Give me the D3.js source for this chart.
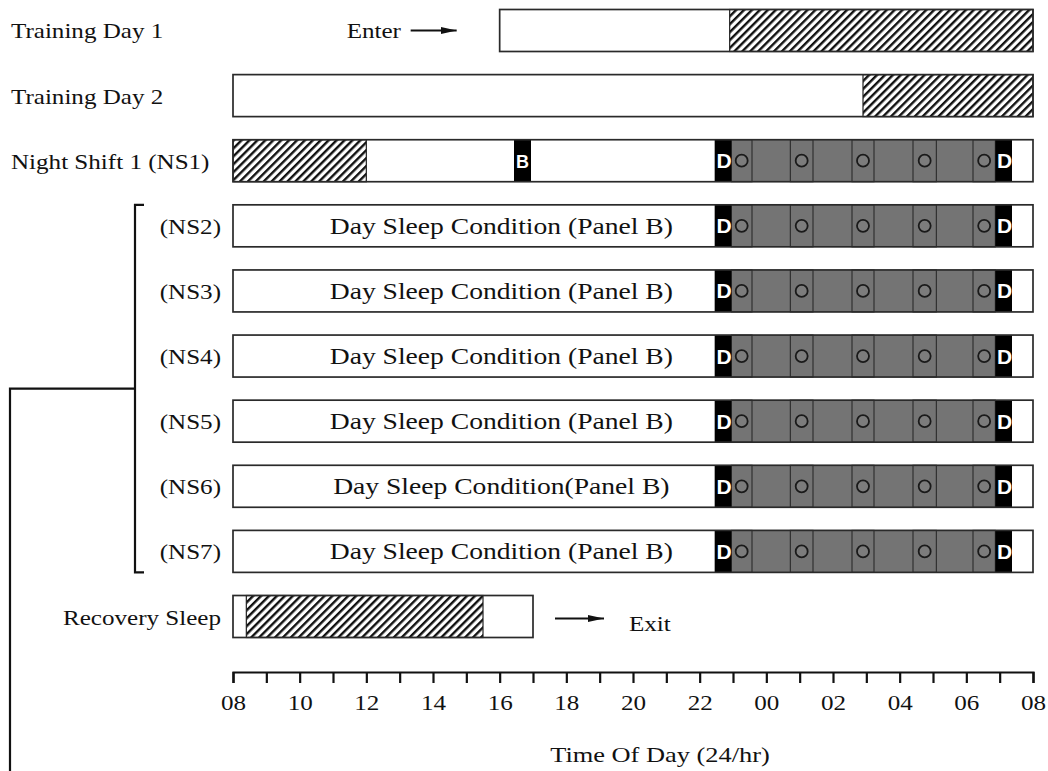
<!DOCTYPE html>
<html>
<head>
<meta charset="utf-8">
<script src="https://cdn.jsdelivr.net/npm/d3@7"></script>
<style>
  body { margin: 0; background: #fff; }
  svg { display: block; }
</style>
</head>
<body>
<svg id="chart"></svg>
<script>
// rows, top to bottom
const rowLabels = ["Training Day 1", "Training Day 2", "Night Shift 1 (NS1)", "(NS2)", "(NS3)", "(NS4)", "(NS5)", "(NS6)", "(NS7)", "Recovery Sleep"];
// hours on a 08 -> 08 (next day) clock, values past 24 run into next morning
const barStart = [16, 8, 8, 8, 8, 8, 8, 8, 8, 8];
const barEnd   = [32, 32, 32, 32, 32, 32, 32, 32, 32, 17];
const sleepStart = [22.9, 26.9, 8, null, null, null, null, null, null, 8.4];
const sleepEnd   = [32, 32, 12, null, null, null, null, null, null, 15.5];
const panelText = [null, null, null,
  "Day Sleep Condition (Panel B)", "Day Sleep Condition (Panel B)", "Day Sleep Condition (Panel B)",
  "Day Sleep Condition (Panel B)", "Day Sleep Condition(Panel B)", "Day Sleep Condition (Panel B)", null];
const shiftRows = [2, 3, 4, 5, 6, 7, 8];
const bBlock = [16.43, 16.94];            // NS1 only
const dBlocks = [[22.45, 22.95], [30.87, 31.37]];
const shiftSpan = [22.95, 30.87];
const testStart = [22.95, 24.72, 26.57, 28.4, 30.2];
const testEnd   = [23.57, 25.4, 27.23, 29.1, 30.87];
const tickHours = d3.range(8, 33, 1);

const width = 1048, height = 771;
const serif = "'Liberation Serif', 'Times New Roman', serif";
const sx = 1.14; // the source type is a bit wide

const svg = d3.select("#chart")
  .attr("width", width)
  .attr("height", height);

const defs = svg.append("defs");
const pat = defs.append("pattern")
  .attr("id", "hatch")
  .attr("patternUnits", "userSpaceOnUse")
  .attr("width", 5.6)
  .attr("height", 10)
  .attr("patternTransform", "rotate(45)");
pat.append("rect").attr("width", 5.6).attr("height", 10).attr("fill", "#fff");
pat.append("rect").attr("width", 2.4).attr("height", 10).attr("fill", "#111");

defs.append("marker")
  .attr("id", "arrow")
  .attr("viewBox", "0 0 16 8")
  .attr("refX", 16).attr("refY", 4)
  .attr("markerWidth", 16).attr("markerHeight", 8)
  .attr("markerUnits", "userSpaceOnUse")
  .attr("orient", "auto")
  .append("path").attr("d", "M0,0.5L16,4L0,7.5Z").attr("fill", "#111");

const x = d3.scaleLinear().domain([8, 32]).range([233, 1033]);
const y = d3.scaleBand()
  .domain(d3.range(rowLabels.length))
  .range([9.5, 637.5])
  .paddingInner(0.355)
  .paddingOuter(0);
const bh = y.bandwidth();

// row labels
rowLabels.forEach((lab, i) => {
  const right = lab.startsWith("(") || lab.startsWith("Recovery");
  const tx = right ? 221 : 11;
  svg.append("text")
    .attr("transform", `translate(${tx},${y(i) + bh / 2 + 8}) scale(${sx},1)`)
    .attr("text-anchor", right ? "end" : "start")
    .attr("font-family", serif)
    .attr("font-size", 22)
    .attr("fill", "#111")
    .text(lab);
});

const rows = svg.append("g").selectAll("g")
  .data(d3.range(rowLabels.length))
  .join("g");

// base white bar
rows.append("rect")
  .attr("x", i => x(barStart[i]))
  .attr("y", i => y(i))
  .attr("width", i => x(barEnd[i]) - x(barStart[i]))
  .attr("height", bh)
  .attr("fill", "#fff");

// sleep (hatched)
rows.filter(i => sleepStart[i] != null).append("rect")
  .attr("x", i => x(sleepStart[i]))
  .attr("y", i => y(i))
  .attr("width", i => x(sleepEnd[i]) - x(sleepStart[i]))
  .attr("height", bh)
  .attr("fill", "url(#hatch)")
  .attr("stroke", "#222")
  .attr("stroke-width", 1.2);

// panel text
rows.filter(i => panelText[i]).append("text")
  .attr("transform", i => `translate(${x(16.05)},${y(i) + bh / 2 + 8}) scale(1.2,1)`)
  .attr("text-anchor", "middle")
  .attr("font-family", serif)
  .attr("font-size", 23)
  .attr("fill", "#111")
  .text(i => panelText[i]);

const shifts = rows.filter(i => shiftRows.includes(i));

// grey shift span and test sessions
shifts.append("rect")
  .attr("x", x(shiftSpan[0]))
  .attr("y", i => y(i))
  .attr("width", x(shiftSpan[1]) - x(shiftSpan[0]))
  .attr("height", bh)
  .attr("fill", "#747474");

shifts.each(function(i) {
  const g = d3.select(this);
  g.selectAll("rect.test")
    .data(testStart.map((s, k) => [s, testEnd[k]]))
    .join("rect")
    .attr("class", "test")
    .attr("x", d => x(d[0]))
    .attr("y", y(i))
    .attr("width", d => x(d[1]) - x(d[0]))
    .attr("height", bh)
    .attr("fill", "#747474")
    .attr("stroke", "#2a2a2a")
    .attr("stroke-width", 1.1);
  g.selectAll("circle")
    .data(testStart.map((s, k) => (s + testEnd[k]) / 2))
    .join("circle")
    .attr("cx", d => x(d))
    .attr("cy", y(i) + bh / 2)
    .attr("r", 6)
    .attr("fill", "#7c7c7c")
    .attr("stroke", "#1a1a1a")
    .attr("stroke-width", 1.8);
  g.selectAll("rect.d")
    .data(dBlocks)
    .join("rect")
    .attr("class", "d")
    .attr("x", d => x(d[0]))
    .attr("y", y(i))
    .attr("width", d => x(d[1]) - x(d[0]))
    .attr("height", bh)
    .attr("fill", "#000");
  g.selectAll("text.d")
    .data(dBlocks)
    .join("text")
    .attr("class", "d")
    .attr("x", d => x((d[0] + d[1]) / 2) + 1)
    .attr("y", y(i) + bh / 2 + 7.5)
    .attr("text-anchor", "middle")
    .attr("font-family", "'Liberation Sans', Arial, sans-serif")
    .attr("font-weight", "bold")
    .attr("font-size", 21)
    .attr("fill", "#fff")
    .text("D");
});

// blood draw block on NS1
const ns1 = rows.filter(i => i === 2);
ns1.append("rect")
  .attr("x", x(bBlock[0]))
  .attr("y", y(2))
  .attr("width", x(bBlock[1]) - x(bBlock[0]))
  .attr("height", bh)
  .attr("fill", "#000");
ns1.append("text")
  .attr("x", x((bBlock[0] + bBlock[1]) / 2))
  .attr("y", y(2) + bh / 2 + 7)
  .attr("text-anchor", "middle")
  .attr("font-family", "'Liberation Sans', Arial, sans-serif")
  .attr("font-weight", "bold")
  .attr("font-size", 18)
  .attr("fill", "#fff")
  .text("B");

// bar outlines
rows.append("rect")
  .attr("x", i => x(barStart[i]))
  .attr("y", i => y(i))
  .attr("width", i => x(barEnd[i]) - x(barStart[i]))
  .attr("height", bh)
  .attr("fill", "none")
  .attr("stroke", "#2a2a2a")
  .attr("stroke-width", 1.7);

// Enter / Exit
const ay0 = y(0) + bh / 2;
svg.append("text")
  .attr("transform", `translate(${x(16) - 153},${ay0 + 8}) scale(${sx},1)`)
  .attr("font-family", serif).attr("font-size", 22).attr("fill", "#111")
  .text("Enter");
svg.append("line")
  .attr("x1", x(16) - 89).attr("x2", x(16) - 43)
  .attr("y1", ay0).attr("y2", ay0)
  .attr("stroke", "#111").attr("stroke-width", 2)
  .attr("marker-end", "url(#arrow)");

const ay9 = y(9) + bh / 2;
svg.append("line")
  .attr("x1", x(17) + 22).attr("x2", x(17) + 71)
  .attr("y1", ay9 + 2).attr("y2", ay9 + 2)
  .attr("stroke", "#111").attr("stroke-width", 2)
  .attr("marker-end", "url(#arrow)");
svg.append("text")
  .attr("transform", `translate(${x(17) + 96},${ay9 + 14}) scale(${sx},1)`)
  .attr("font-family", serif).attr("font-size", 22).attr("fill", "#111")
  .text("Exit");

// bracket over NS2-NS7 and the long line down
const bTop = y(3), bBot = y(8) + bh, bMid = (bTop + bBot) / 2;
svg.append("path")
  .attr("d", `M144,${bTop}H135V${bBot}H144`)
  .attr("fill", "none").attr("stroke", "#111").attr("stroke-width", 2.2);
svg.append("path")
  .attr("d", `M135,${bMid}H10V${height}`)
  .attr("fill", "none").attr("stroke", "#111").attr("stroke-width", 2.2);

// time axis
const axis = d3.axisBottom(x)
  .tickValues(tickHours)
  .tickSize(11)
  .tickSizeOuter(11)
  .tickPadding(11)
  .tickFormat(d => d % 2 === 0 ? String(d % 24).padStart(2, "0") : "");

const ax = svg.append("g")
  .attr("transform", "translate(0,672)")
  .call(axis);
ax.select(".domain").attr("stroke", "#111").attr("stroke-width", 2.2);
ax.selectAll(".tick line").attr("stroke", "#111").attr("stroke-width", 2.2);
ax.selectAll(".tick text")
  .attr("font-family", serif)
  .attr("font-size", 22)
  .attr("fill", "#111")
  .attr("transform", `scale(${sx},1)`);

svg.append("text")
  .attr("transform", `translate(660,762) scale(1.2,1)`)
  .attr("text-anchor", "middle")
  .attr("font-family", serif).attr("font-size", 22).attr("fill", "#111")
  .text("Time Of Day (24/hr)");
</script>
</body>
</html>
